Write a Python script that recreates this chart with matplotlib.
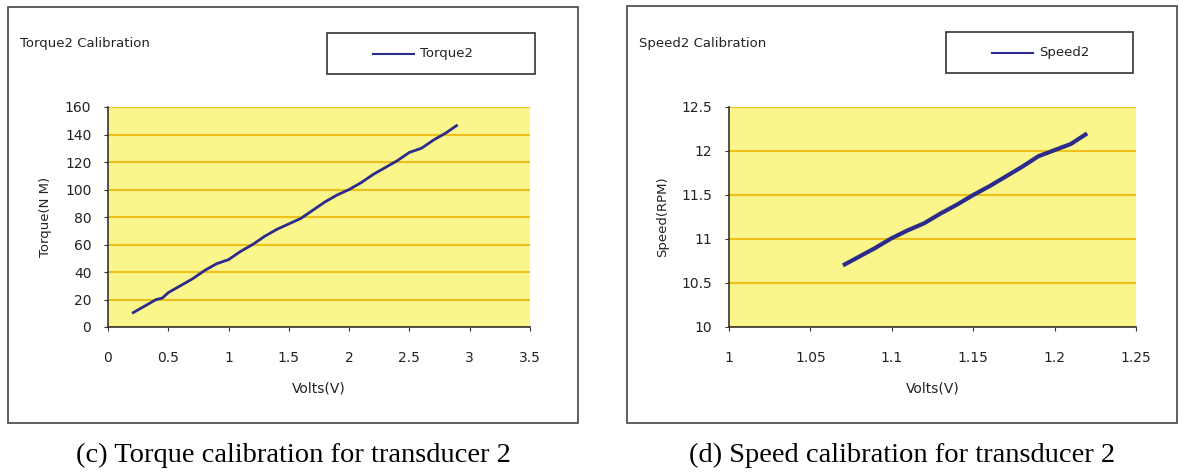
import numpy as np
import matplotlib
matplotlib.use("Agg")
import matplotlib.pyplot as plt
from matplotlib.patches import Rectangle

# torque calibration (transducer 2)
torque_volts = [0.20, 0.30, 0.40, 0.45, 0.50, 0.60, 0.70, 0.80, 0.90, 1.00,
                1.10, 1.20, 1.30, 1.40, 1.50, 1.60, 1.70, 1.80, 1.90, 2.00,
                2.10, 2.20, 2.30, 2.40, 2.50, 2.60, 2.70, 2.80, 2.90]
torque_nm = [10, 15, 20, 21, 25, 30, 35, 41, 46, 49,
             55, 60, 66, 71, 75, 79, 85, 91, 96, 100,
             105, 111, 116, 121, 127, 130, 136, 141, 147]
torque_xticks = [0, 0.5, 1, 1.5, 2, 2.5, 3, 3.5]
torque_xticklabels = ['0', '0.5', '1', '1.5', '2', '2.5', '3', '3.5']
torque_yticks = [0, 20, 40, 60, 80, 100, 120, 140, 160]

# speed calibration (transducer 2)
speed_volts = [1.070, 1.080, 1.090, 1.100, 1.110, 1.120, 1.130, 1.140, 1.150,
               1.160, 1.170, 1.180, 1.190, 1.200, 1.210, 1.220]
speed_rpm = [10.70, 10.80, 10.90, 11.01, 11.10, 11.18, 11.29, 11.39, 11.50,
             11.60, 11.71, 11.82, 11.94, 12.01, 12.08, 12.20]
speed_xticks = [1.0, 1.05, 1.1, 1.15, 1.2, 1.25]
speed_xticklabels = ['1', '1.05', '1.1', '1.15', '1.2', '1.25']
speed_yticks = [10, 10.5, 11, 11.5, 12, 12.5]
speed_yticklabels = ['10', '10.5', '11', '11.5', '12', '12.5']

W, H = 1184, 472
fill = '#faf68c'
grid_c = '#efbf1a'
line_c = '#2b2b8c'
txt = '#222222'

fig = plt.figure(figsize=(W / 100, H / 100), dpi=100)
fig.patch.set_facecolor('white')


def fx(px):
    return px / W


def fy(py):
    return 1 - py / H


def panel(box, axrect, title, legend, xs, ys, xt, xtl, yt, ytl, xlim, ylim,
          ylabel, caption, lw):
    bx0, by0, bx1, by1 = box
    fig.patches.append(Rectangle((fx(bx0), fy(by1)), fx(bx1 - bx0), (by1 - by0) / H,
                                 transform=fig.transFigure, fill=False,
                                 edgecolor='#444444', lw=1.2))
    ax0, ay0, ax1, ay1 = axrect
    ax = fig.add_axes([fx(ax0), fy(ay1), fx(ax1 - ax0), (ay1 - ay0) / H])
    ax.set_facecolor(fill)
    ax.plot(xs, ys, color=line_c, lw=lw, label=legend, solid_capstyle='butt')
    ax.set_xlim(*xlim)
    ax.set_ylim(*ylim)
    ax.set_xticks(xt)
    ax.set_xticklabels(xtl)
    ax.set_yticks(yt)
    ax.set_yticklabels(ytl)
    ax.grid(axis='y', color=grid_c, lw=1.5)
    ax.set_axisbelow(True)
    for s in ['top', 'right']:
        ax.spines[s].set_visible(False)
    for s in ['left', 'bottom']:
        ax.spines[s].set_color('#333333')
        ax.spines[s].set_linewidth(1.2)
    ax.tick_params(direction='out', length=3, color='#333333', labelsize=10,
                   labelcolor=txt)
    ax.tick_params(axis='x', pad=14)
    ax.tick_params(axis='y', pad=9)
    ax.set_xlabel('Volts(V)', fontsize=10, color=txt, labelpad=12)
    ax.set_ylabel(ylabel, fontsize=9.5, color=txt, labelpad=9)
    fig.text(fx(bx0 + 12), fy(43), title, fontsize=9.5, color=txt, va='center')
    lx0, ly0, lx1, ly1 = legend_boxes[legend]
    fig.patches.append(Rectangle((fx(lx0), fy(ly1)), fx(lx1 - lx0), (ly1 - ly0) / H,
                                 transform=fig.transFigure, fill=False,
                                 edgecolor='#333333', lw=1.2))
    ly = fy((ly0 + ly1) / 2)
    fig.lines.append(plt.Line2D([fx(lx0 + 46), fx(lx0 + 87)], [ly, ly],
                                transform=fig.transFigure, color=line_c, lw=1.5))
    fig.text(fx(lx0 + 93), ly, legend, fontsize=9.5, color=txt, va='center')
    fig.text(fx((bx0 + bx1) / 2), fy(455), caption, fontsize=20.5,
             family='Liberation Serif', ha='center', va='center', color='black')
    return ax


legend_boxes = {'Torque2': (327, 33, 535, 74), 'Speed2': (946, 32, 1133, 73)}

panel((8, 7, 578, 423), (108, 107, 530, 327), 'Torque2 Calibration', 'Torque2',
      torque_volts, torque_nm, torque_xticks, torque_xticklabels,
      torque_yticks, [str(v) for v in torque_yticks], (0, 3.5), (0, 160),
      'Torque(N M)', '(c) Torque calibration for transducer 2', 2.0)

panel((627, 6, 1177, 423), (729, 107, 1136, 327), 'Speed2 Calibration', 'Speed2',
      speed_volts, speed_rpm, speed_xticks, speed_xticklabels,
      speed_yticks, speed_yticklabels, (1.0, 1.25), (10, 12.5),
      'Speed(RPM)', '(d) Speed calibration for transducer 2', 3.0)

fig.savefig('out.png', dpi=100)
